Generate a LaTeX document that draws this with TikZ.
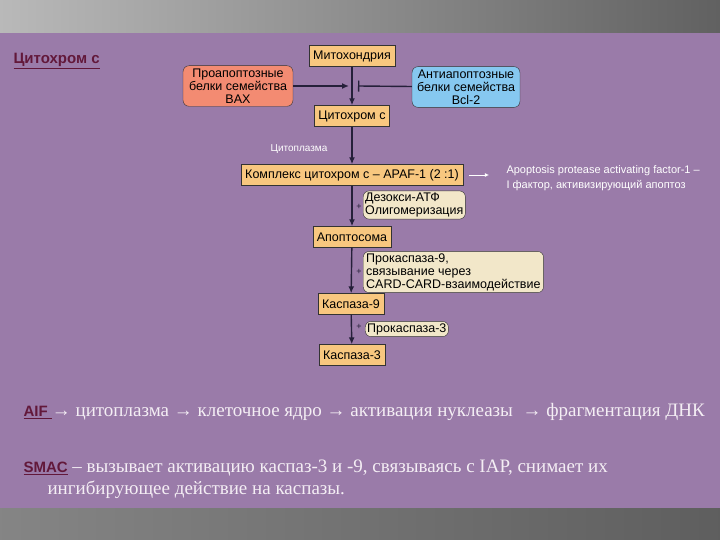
\documentclass[tikz,border=0pt]{standalone}
\usepackage{fontspec}
\setmainfont{Liberation Serif}
\setsansfont{Liberation Sans}
\usetikzlibrary{arrows.meta}
\definecolor{fon}{HTML}{9A7BA9}
\definecolor{kasten}{HTML}{F8C77F}
\definecolor{lachs}{HTML}{F38B72}
\definecolor{himmel}{HTML}{86C8F0}
\definecolor{creme}{HTML}{F2E7C9}
\definecolor{pfeil}{HTML}{25203A}
\definecolor{weinrot}{HTML}{62183A}
\definecolor{hell}{HTML}{F4EEF4}

\begin{document}
\begin{tikzpicture}[x=1pt, y=-1pt, >={Latex[length=7pt,width=6pt]},
    font=\sffamily\fontsize{12.5}{13}\selectfont,
    box/.style={draw=black!80, fill=kasten, inner xsep=4pt, inner ysep=3pt, minimum height=21pt},
    oval/.style={draw=black!80, rounded corners=6pt, fill=creme, inner sep=2pt, align=left},
    link/.style={->, draw=pfeil, line width=1.4pt},
    plus/.style={font=\sffamily\fontsize{9}{9}\selectfont, text=pfeil},
    weiss/.style={text=white, font=\sffamily\fontsize{11}{15}\selectfont},
    kopf/.style={text=weinrot, font=\sffamily\bfseries\fontsize{15}{15}\selectfont}]
  % Hintergrund
  \useasboundingbox (0,0) rectangle (720,540);
  \shade[left color=gray!55, right color=black!62] (0,0) rectangle (720,33);
  \fill[fon] (0,33) rectangle (720,508);
  \shade[left color=black!48, right color=black!63] (0,508) rectangle (720,540);

  \node[kopf, anchor=west] (titel) at (10,61) {\underline{Цитохром с}};

  % Mitochondrium
  \node[box] (mito) at (352,56) {Митохондрия};
  \node[oval, fill=lachs, align=center, inner xsep=6pt, inner ysep=3pt] (pro) at (238,86)
    {Проапоптозные\\белки семейства\\BAX};
  \node[oval, fill=himmel, align=center, inner xsep=5pt, inner ysep=3pt] (anti) at (466,87)
    {Антиапоптозные\\белки семейства\\Bcl-2};
  \node[box] (cyt) at (352,116) {Цитохром с};
  \coordinate (treff) at (352,86);
  \draw[link] (mito) -- (cyt);
  \draw[link] (pro) -- ([xshift=-3pt]treff);
  \draw[draw=pfeil, line width=1.4pt, -{Bar[width=11pt, line width=1.4pt]}] (anti) -- ([xshift=6pt]treff);

  % Zytoplasma
  \node[weiss, font=\sffamily\fontsize{10}{12}\selectfont] (plasma) at (299,149) {Цитоплазма};
  \node[box] (kompl) at (352,175) {Комплекс цитохром с – APAF-1 (2 :1)};
  \draw[link] (cyt) -- (kompl);
  \node[weiss, anchor=west, align=left] (apaf) at (503,178)
    {Apoptosis protease activating factor-1 –\\I фактор, активизирующий апоптоз};
  \coordinate (apafende) at ([xshift=26pt]kompl.east);
  \draw[->, white, thick, >={Latex[length=4pt,width=4pt]}] ([xshift=6pt]kompl.east) -- (apafende);

  \node[oval, anchor=west] (datf) at (363,205) {Дезокси-АТФ\\Олигомеризация};
  \node[box] (apo) at (352,237) {Апоптосома};
  \node[oval, anchor=west, inner xsep=3pt] (prok9) at (363,272)
    {Прокаспаза-9,\\связывание через\\CARD-CARD-взаимодействие};
  \node[box] (kas9) at (351,304) {Каспаза-9};
  \node[oval, anchor=west] (prok3) at (365,329) {Прокаспаза-3};
  \node[box] (kas3) at (352,355) {Каспаза-3};
  \draw[link] (kompl) -- (apo);
  \draw[link] (apo) -- (kas9);
  \draw[link] (kas9) -- (kas3);
  \foreach \yy in {207,272,327}
    \node[plus] at (359,\yy) {+};

  % AIF, SMAC
  \node[anchor=west, text=hell, font=\rmfamily\fontsize{19}{21}\selectfont] (aif) at (20,412)
    {\textcolor{weinrot}{\sffamily\bfseries\fontsize{15}{18}\selectfont\underline{AIF\ }}→ цитоплазма → клеточное ядро → активация нуклеазы \ → фрагментация ДНК};
  \node[anchor=west, text=hell, align=left, font=\rmfamily\fontsize{19}{22}\selectfont] (smac) at (20,479)
    {\textcolor{weinrot}{\sffamily\bfseries\fontsize{15}{18}\selectfont\underline{SMAC}} – вызывает активацию каспаз-3 и -9, связываясь с IAP, снимает их\\
     \hspace*{24pt}ингибирующее действие на каспазы.};
\end{tikzpicture}
\end{document}
